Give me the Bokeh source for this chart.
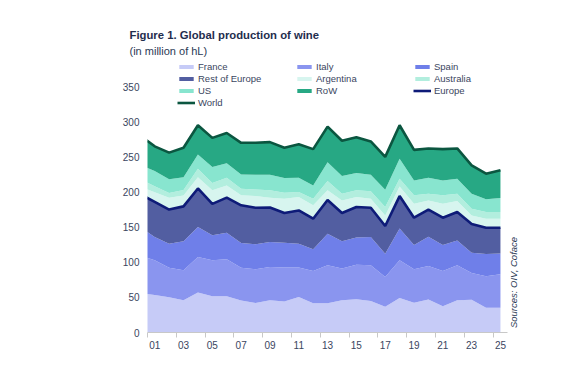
import math
from bokeh.plotting import figure
from bokeh.models import (Range1d, FixedTicker, Label, Legend, LegendItem,
                          ColumnDataSource, Title)
from bokeh.embed import file_html
from bokeh.resources import INLINE

# ---- data (million hL) ----
years = list(range(2000, 2026))
france = [56.5, 53.2, 50.0, 46.0, 57.0, 51.6, 51.5, 45.5, 42.0, 46.0, 44.0, 50.5, 41.5,
          41.5, 46.0, 47.2, 45.0, 36.7, 49.0, 42.2, 47.0, 37.2, 45.8, 46.7, 35.3, 35.3]
italy = [52.7, 49.6, 42.0, 42.6, 50.5, 51.2, 52.7, 46.5, 48.0, 47.3, 48.4, 41.9, 46.1,
         54.2, 45.0, 49.4, 50.7, 42.3, 53.8, 47.8, 47.7, 50.4, 49.9, 38.1, 44.7, 47.6]
spain = [40.8, 33.2, 34.5, 41.2, 42.7, 35.5, 37.9, 35.4, 35.5, 35.5, 35.5, 34.1, 30.8,
         44.8, 39.0, 38.7, 40.3, 33.2, 45.2, 34.5, 41.6, 37.1, 35.3, 28.7, 31.7, 29.6]
rest_europe = [47.0, 50.0, 48.5, 49.7, 54.8, 44.7, 49.9, 53.6, 52.0, 49.2, 42.1, 47.2, 43.6,
               48.0, 40.0, 43.3, 41.6, 39.4, 46.2, 38.9, 38.5, 38.7, 40.5, 41.0, 37.3, 36.5]
argentina = [11.0, 13.5, 16.8, 15.5, 16.0, 19.3, 17.4, 14.2, 16.7, 13.8, 20.4, 19.1, 19.0,
             13.8, 18.0, 14.2, 12.8, 15.1, 13.7, 19.9, 13.2, 19.9, 15.6, 12.2, 13.0, 13.0]
australia = [10.0, 8.5, 6.7, 8.0, 12.0, 10.4, 10.9, 9.4, 9.5, 10.5, 8.6, 7.2, 9.4,
             13.2, 9.5, 9.5, 10.5, 11.9, 10.9, 11.9, 9.5, 11.9, 10.4, 9.5, 9.5, 9.5]
us = [21.0, 21.7, 19.5, 18.0, 20.4, 22.7, 20.7, 20.4, 20.8, 22.2, 20.8, 20.3, 19.0,
      27.0, 25.1, 24.7, 23.6, 24.6, 28.5, 21.3, 22.8, 21.3, 21.3, 21.3, 18.0, 19.9]
row = [41.0, 35.3, 38.0, 42.0, 41.6, 41.6, 43.0, 45.0, 45.5, 46.5, 43.2, 47.7, 51.6,
       50.5, 50.4, 51.0, 47.5, 46.8, 47.7, 43.5, 41.7, 44.5, 43.2, 40.5, 36.5, 39.6]

series_names = ["France", "Italy", "Spain", "Rest of Europe", "Argentina",
                "Australia", "US", "RoW"]
series_keys = ["france", "italy", "spain", "rest_europe", "argentina",
               "australia", "us", "row"]
series_colors = ["#c6cbf7", "#8a95ef", "#6f7fe9", "#525ea1", "#d7f5ef",
                 "#b2eede", "#88e5cf", "#27a884"]
y_ticks = [0, 50, 100, 150, 200, 250, 300, 350]
tick_years = list(range(2001, 2026, 2))
tick_labels = ["%02d" % (y % 100) for y in tick_years]

data = dict(year=years, france=france, italy=italy, spain=spain,
            rest_europe=rest_europe, argentina=argentina, australia=australia,
            us=us, row=row)
data["europe"] = [a + b + c + d for a, b, c, d in zip(france, italy, spain, rest_europe)]
data["world"] = [sum(v) for v in zip(france, italy, spain, rest_europe,
                                     argentina, australia, us, row)]
source = ColumnDataSource(data)

FONT = "Liberation Sans"
TXT = "#3a4560"

p = figure(width=556, height=366, output_backend="svg", toolbar_location=None,
           x_range=Range1d(2000.5, 2026.6), y_range=Range1d(0, 390),
           min_border_left=147, min_border_right=33, min_border_top=58,
           min_border_bottom=34)
p.outline_line_color = None
p.grid.visible = False
p.background_fill_color = "white"

areas = p.varea_stack(series_keys, x="year", color=series_colors, source=source)
europe_line = p.line("year", "europe", source=source, line_color="#0e1b78",
                     line_width=2.6)
world_line = p.line("year", "world", source=source, line_color="#0b5640",
                    line_width=2.6)

# axes
p.yaxis.ticker = FixedTicker(ticks=y_ticks)
p.yaxis.axis_line_color = None
p.yaxis.major_tick_line_color = None
p.yaxis.major_tick_out = 0
p.yaxis.major_tick_in = 0
p.yaxis.minor_tick_line_color = None
p.yaxis.major_label_standoff = 8
p.yaxis.major_label_text_font = FONT
p.yaxis.major_label_text_font_size = "10px"
p.yaxis.major_label_text_color = TXT

p.xaxis.ticker = FixedTicker(ticks=tick_years,
                             minor_ticks=[y - 0.5 for y in tick_years])
p.xaxis.bounds = (2000.5, 2025.5)
p.xaxis.major_label_overrides = {y: l for y, l in zip(tick_years, tick_labels)}
p.xaxis.axis_line_color = "#c8c8c8"
p.xaxis.major_tick_line_color = None
p.xaxis.major_tick_out = 0
p.xaxis.major_tick_in = 0
p.xaxis.minor_tick_line_color = "#c8c8c8"
p.xaxis.minor_tick_out = 5
p.xaxis.minor_tick_in = 0
p.xaxis.major_label_standoff = 3
p.xaxis.major_label_text_font = FONT
p.xaxis.major_label_text_font_size = "10px"
p.xaxis.major_label_text_color = TXT

# legend
items = [LegendItem(label=n, renderers=[r]) for n, r in zip(series_names, areas)]
items.append(LegendItem(label="Europe", renderers=[europe_line]))
items.append(LegendItem(label="World", renderers=[world_line]))
legend = Legend(items=items, orientation="horizontal", ncols=3,
                location=(30, 224), padding=0, margin=0, spacing=1,
                glyph_width=18, glyph_height=5, label_height=10,
                label_width=96, label_standoff=3,
                label_text_font=FONT, label_text_font_size="9.5px",
                label_text_color=TXT, border_line_color=None,
                background_fill_alpha=0)
p.add_layout(legend, "center")

# titles (subtitle first: it sits nearest the plot)
p.add_layout(Title(text="(in million of hL)", align="left", offset=-18,
                   text_font=FONT, text_font_size="11px", text_font_style="normal",
                   text_color="#2b3a55", standoff=4), "above")
p.add_layout(Title(text="Figure 1. Global production of wine", align="left",
                   offset=-18, text_font=FONT, text_font_size="11.3px",
                   text_font_style="bold", text_color="#1f2d4e", standoff=0),
             "above")

p.add_layout(Label(x=366, y=50, x_units="screen", y_units="screen",
                   text="Sources: OIV, Coface", angle=math.pi / 2,
                   text_font=FONT, text_font_size="9.5px", text_font_style="italic",
                   text_color="#2b3a55", text_align="center",
                   text_baseline="middle"))

open("out.html", "w").write(file_html(p, INLINE))
